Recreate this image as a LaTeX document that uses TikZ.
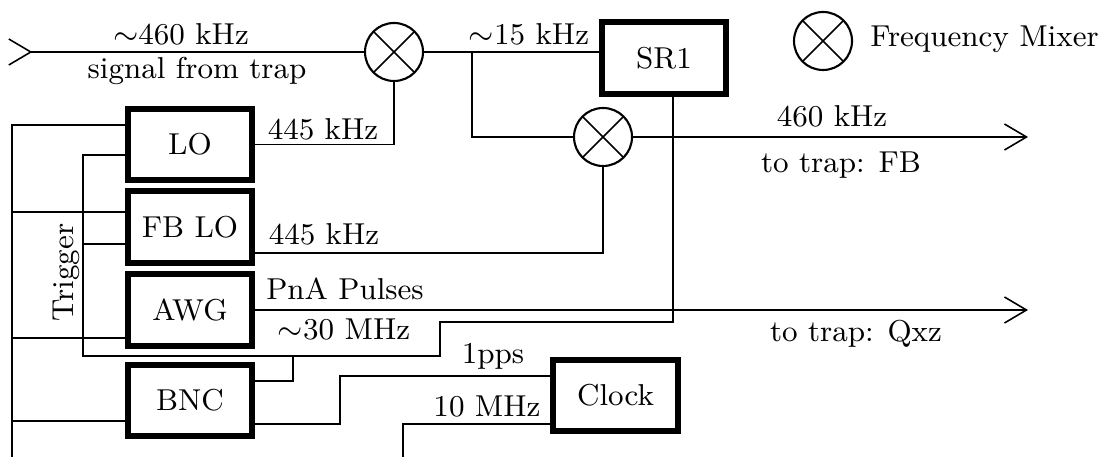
\documentclass[tikz,border=0pt]{standalone}
\usetikzlibrary{arrows.meta}
\newcommand{\lbfont}{\fontsize{8.6}{10}\selectfont}
\tikzset{
  box/.style={rectangle, draw, line width=1.6pt, font=\lbfont, inner sep=0pt,
              minimum width=1.245cm, minimum height=0.715cm},
  mixer/.style={circle, draw, line width=0.6pt, minimum size=0.58cm, inner sep=0pt, outer sep=0pt},
  lab/.style={font=\lbfont, inner sep=0pt, anchor=base},
  wire/.style={line width=0.45pt},
  sigout/.style={wire, -{Straight Barb[length=2.2mm, width=2.6mm]}},
  sigin/.style={wire, {Straight Barb[reversed, length=2.2mm, width=2.6mm]}-},
}

\begin{document}
\begin{tikzpicture}[x=1cm, y=1cm]
  \useasboundingbox (0,0) rectangle (11.04,-4.57);

  % ---- instruments
  \node[box] (lo) at (1.90,-1.445) {LO};
  \node[box] (fblo) at (1.90,-2.27) {FB LO};
  \node[box] (awg) at (1.90,-3.10) {AWG};
  \node[box] (bnc) at (1.90,-4.005) {BNC};
  \node[box] (sr1) at (6.64,-0.58) {SR1};
  \node[box] (clock) at (6.155,-3.955) {Clock};

  % ---- mixers (and the key)
  \node[mixer] (m1) at (3.94,-0.52) {};
  \node[mixer] (m2) at (6.03,-1.37) {};
  \node[mixer] (mkey) at (8.23,-0.41) {};
  \foreach \m in {m1,m2,mkey}
    \draw[wire] (\m.north east) -- (\m.south west) (\m.north west) -- (\m.south east);
  \node[lab] at (9.845,-0.47) {Frequency Mixer};

  % ---- bends and loose ends
  \coordinate (in) at (0.08,-0.52);
  \coordinate (j1) at (4.72,-0.52);
  \coordinate (fbout) at (10.28,-1.37);
  \coordinate (qxzout) at (10.28,-3.10);
  \coordinate (trig) at (0.12,-4.57);
  \coordinate (rb1) at (4.40,-3.22);
  \coordinate (rb2) at (0.83,-3.56);
  \coordinate (cb1) at (3.40,-3.76);
  \coordinate (ref) at (4.03,-4.57);

  % ---- signal path
  \draw[sigin] (in) -- (m1.west);
  \draw[wire] (m1.east) -- (m1.east -| sr1.west);
  \draw[wire] (j1) |- (m2.west);
  \draw[sigout] (m2.east) -- (fbout);
  \draw[wire] (lo.east) -| (m1.south);
  \draw[wire] ([yshift=-0.26cm]fblo.east) -| (m2.south);
  \draw[sigout] (awg.east) -- (qxzout);

  % ---- reference from SR1 to the LOs
  \draw[wire] ([xshift=0.09cm]sr1.south) |- (rb1) |- (rb2) |- ([yshift=-0.105cm]lo.west);
  \draw[wire] (rb2 |- 0,-2.44) -- ([yshift=-0.17cm]fblo.west);
  \draw[wire] ([yshift=0.195cm]bnc.east) -| (2.93,-3.56);

  % ---- clock
  \draw[wire] ([yshift=-0.235cm]bnc.east) -| (cb1) -- ([yshift=0.195cm]clock.west);
  \draw[wire] ([yshift=-0.285cm]clock.west) -| (ref);

  % ---- trigger bus
  \foreach \n/\s in {lo/0.195, fblo/0.15, awg/-0.28, bnc/-0.205}
    \draw[wire] ([yshift=\s cm]\n.west) -| (trig);
  \node[font=\lbfont, rotate=90, inner sep=0pt] at (0.66,-2.725) {Trigger};

  % ---- labels
  \node[lab] at (1.81,-0.45) {$\sim$460 kHz};
  \node[lab] at (1.97,-0.79) {signal from trap};
  \node[lab] at (5.29,-0.45) {$\sim$15 kHz};
  \node[lab] at (3.23,-1.40) {445 kHz};
  \node[lab] at (3.24,-2.45) {445 kHz};
  \node[lab] at (3.45,-3.00) {PnA Pulses};
  \node[lab] at (3.44,-3.40) {$\sim$30 MHz};
  \node[lab] at (4.93,-3.635) {1pps};
  \node[lab] at (4.87,-4.16) {10 MHz};
  \node[lab] at (8.32,-1.27) {460 kHz};
  \node[lab] at (8.41,-1.73) {to trap: FB};
  \node[lab] at (8.56,-3.42) {to trap: Qxz};
\end{tikzpicture}
\end{document}
